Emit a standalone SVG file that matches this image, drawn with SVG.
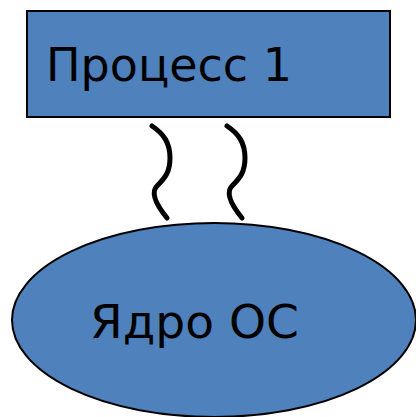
<svg xmlns="http://www.w3.org/2000/svg" width="416" height="417" viewBox="0 0 416 417">
<style>
.shape{fill:#4f81bd;stroke:#000;stroke-width:2}
.lbl{font-family:"DejaVu Sans","Noto Sans",sans-serif;font-size:47px;fill:#000}
.sq{fill:none;stroke:#000;stroke-width:5;stroke-linecap:round}
</style>
<rect width="416" height="417" fill="#fff"/>
<g id="connectors">
<path id="wave1" class="sq" d="M152,126 C164,134 170,143 170,158 C170,172 165,178 157,186 C151,192 154,202 167,218"/>
<path id="wave2" class="sq" d="M227,126 C239,134 245,143 245,158 C245,172 240,178 232,186 C226,192 229,202 242,218"/>
</g>
<g id="process1">
<rect class="shape" x="27" y="11" width="363" height="106"/>
<text class="lbl" x="46" y="81" textLength="246" lengthAdjust="spacingAndGlyphs">Процесс 1</text>
</g>
<g id="kernel">
<ellipse class="shape" cx="214" cy="320" rx="202" ry="97"/>
<text class="lbl" x="90" y="338" textLength="209" lengthAdjust="spacingAndGlyphs">Ядро ОС</text>
</g>
</svg>
